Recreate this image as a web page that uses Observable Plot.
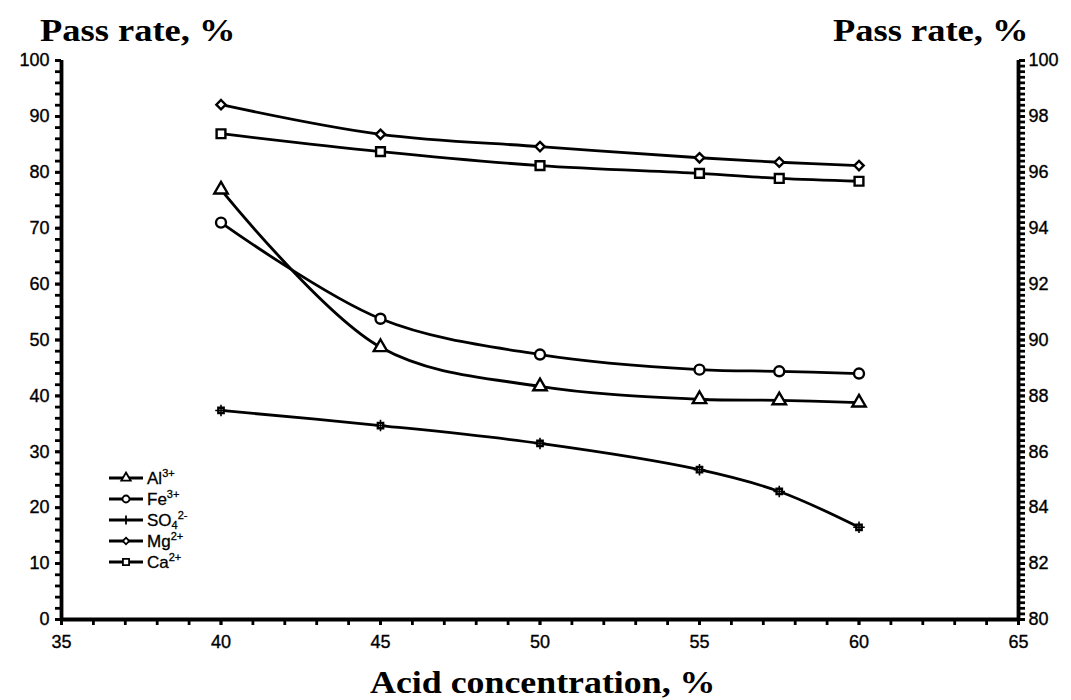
<!DOCTYPE html>
<html>
<head>
<meta charset="utf-8">
<script src="https://cdn.jsdelivr.net/npm/d3@7"></script>
<script src="https://cdn.jsdelivr.net/npm/@observablehq/plot@0.6"></script>
<style>
  html, body { margin: 0; padding: 0; background: #fff; }
  #page { position: relative; width: 1071px; height: 700px; overflow: hidden; background: #fff; }
  .title { position: absolute; font-family: "Liberation Serif", "DejaVu Serif", serif; font-weight: bold; color: #000; white-space: nowrap; line-height: 1; transform-origin: 0 0; }
  .top { font-size: 32px; transform: scaleX(1.14); }
  .bottom { font-size: 32px; transform: scaleX(1.12); }
  #chart { position: absolute; left: 0; top: 50px; }
  #chart svg text { stroke: #000; stroke-width: 0.35px; font-size: 18px !important; }
  #legend { position: absolute; left: 108px; top: 467px; font-family: "Liberation Sans", Arial, sans-serif; font-size: 17px; color: #000; -webkit-text-stroke: 0.3px #000; }
  #legend .row { height: 21.2px; display: flex; align-items: center; }
  #legend svg { margin-right: 3px; }
  #legend sup { font-size: 11px; vertical-align: 7px; }
  #legend sub { font-size: 11px; vertical-align: -3px; }
</style>
</head>
<body>
<div id="page">
  <div class="title top" style="left:40px; top:14px;">Pass rate, %</div>
  <div class="title top" style="left:833px; top:14px;">Pass rate, %</div>
  <div id="chart"></div>
  <div class="title bottom" style="left:370px; top:666px;">Acid concentration, %</div>
  <div id="legend"></div>
</div>
<script>
// ---- data ----
const concentration = [40, 45, 50, 55, 57.5, 60];
const al3 = [76.9, 48.7, 41.7, 39.4, 39.2, 38.8];
const fe3 = [71.0, 53.8, 47.4, 44.7, 44.4, 44.0];
const so4 = [37.4, 34.7, 31.5, 26.8, 22.9, 16.5];
const mg2 = [92.1, 86.8, 84.6, 82.6, 81.8, 81.2];
const ca2 = [86.9, 83.7, 81.2, 79.8, 78.9, 78.4];

const seriesNames = ["Al3+", "Fe3+", "SO42-", "Mg2+", "Ca2+"];
const seriesValues = [al3, fe3, so4, mg2, ca2];
const seriesSymbols = ["triangle", "circle", "square2", "diamond2", "square2"];
const seriesR = [5, 5, 3.4, 4.2, 5.6];
const legendHtml = ["Al<sup>3+</sup>", "Fe<sup>3+</sup>", "SO<sub>4</sub><sup>2-</sup>", "Mg<sup>2+</sup>", "Ca<sup>2+</sup>"];

const xTicksMajor = [35, 40, 45, 50, 55, 60, 65];
const yTicksLeft = [0, 10, 20, 30, 40, 50, 60, 70, 80, 90, 100];
const yTicksRightLabels = [80, 82, 84, 86, 88, 90, 92, 94, 96, 98, 100];

const rows = seriesNames.flatMap((name, i) =>
  concentration.map((c, j) => ({series: name, x: c, y: seriesValues[i][j]}))
);

const lineMarks = seriesNames.map(name =>
  Plot.line(rows.filter(d => d.series === name), {x: "x", y: "y", curve: "catmull-rom", stroke: "#000", strokeWidth: 2.8})
);
const dotMarks = seriesNames.map((name, i) =>
  Plot.dot(rows.filter(d => d.series === name), {x: "x", y: "y", symbol: () => seriesSymbols[i], r: seriesR[i], fill: "#fff", stroke: "#000", strokeWidth: 2.4})
);
// SO4 marker has a small cross through it
const so4Cross = Plot.dot(rows.filter(d => d.series === "SO42-"), {x: "x", y: "y", symbol: "plus", r: 3.8, stroke: "#000", strokeWidth: 1.6});

const chart = Plot.plot({
  width: 1071,
  height: 610,
  marginLeft: 61,
  marginRight: 53,
  marginTop: 10,
  marginBottom: 41,
  style: {fontFamily: "Liberation Sans, Arial, sans-serif", fontSize: "18px", color: "#000", background: "#fff"},
  x: {domain: [35, 65], axis: null},
  y: {domain: [0, 100], axis: null},
  marks: [
    Plot.axisX(d3.range(35, 66, 1), {tickSize: 6, strokeWidth: 2.8, tickFormat: () => "", label: null}),
    Plot.axisX(xTicksMajor, {tickSize: 6, tickPadding: 10, strokeWidth: 2.8, tickFormat: d => d, label: null}),
    Plot.axisY(d3.range(0, 101, 2), {anchor: "left", tickSize: 6, strokeWidth: 2.8, tickFormat: () => "", label: null}),
    Plot.axisY(yTicksLeft, {anchor: "left", tickSize: 6, tickPadding: 6, strokeWidth: 2.8, tickFormat: d => d, label: null}),
    Plot.axisY(d3.range(0, 101, 1), {anchor: "right", tickSize: 6, strokeWidth: 2.8, tickFormat: () => "", label: null}),
    Plot.axisY(yTicksLeft, {anchor: "right", tickSize: 6, tickPadding: 4, strokeWidth: 2.8, tickFormat: (d, i) => yTicksRightLabels[i], label: null}),
    Plot.ruleY([0], {stroke: "#000", strokeWidth: 3.8}),
    Plot.ruleX([35, 65], {stroke: "#000", strokeWidth: 3.8}),
    ...lineMarks,
    ...dotMarks,
    so4Cross
  ]
});
document.getElementById("chart").appendChild(chart);

// ---- legend ----
const legend = document.getElementById("legend");
const symMap = {triangle: d3.symbolTriangle, circle: d3.symbolCircle, square2: d3.symbolSquare2, diamond2: d3.symbolDiamond2};
seriesNames.forEach((name, i) => {
  const row = document.createElement("div");
  row.className = "row";
  const rr = seriesR[i] * 0.7;
  let path = d3.symbol(symMap[seriesSymbols[i]], Math.PI * rr * rr)();
  if (name === "SO42-") path = "M0,-4.5L0,4.5";
  row.innerHTML = `<svg width="36" height="14" viewBox="0 0 36 14"><line x1="1" y1="7" x2="35" y2="7" stroke="#000" stroke-width="2.8"/><path d="${path}" transform="translate(18,7)" fill="#fff" stroke="#000" stroke-width="1.8"/></svg><span>${legendHtml[i]}</span>`;
  legend.appendChild(row);
});
</script>
</body>
</html>
